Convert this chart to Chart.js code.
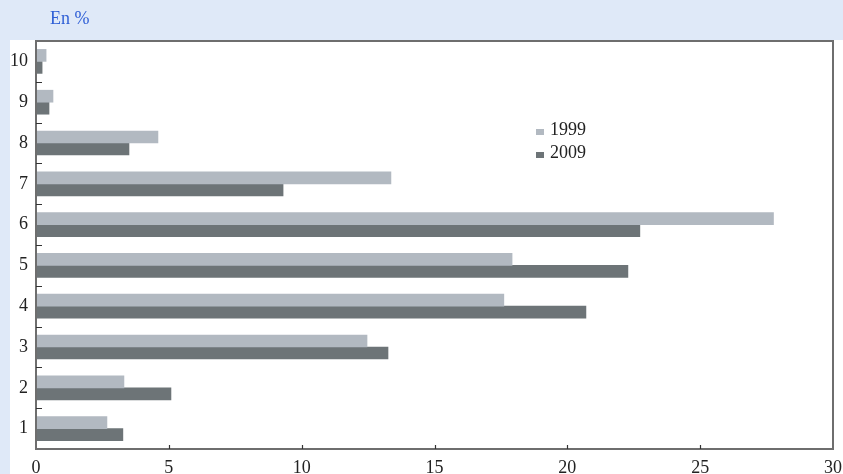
<!DOCTYPE html>
<html>
<head>
<meta charset="utf-8">
<script src="https://cdn.jsdelivr.net/npm/chart.js@4"></script>
<style>
  html, body { margin: 0; padding: 0; background: #dfe9f8; }
  #wrap { position: relative; width: 843px; height: 474px; }
  #unit { position: absolute; left: 50px; top: 8px; font: 18px "Liberation Serif", serif; color: #2f5fd6; }
  canvas { position: absolute; left: 0; top: 0; }
</style>
</head>
<body>
<div id="wrap">
  <canvas id="chart" width="843" height="474"></canvas>
  <div id="unit">En %</div>
</div>
<script>
// déciles 1 (bas) à 10 (haut)
const deciles = ['1', '2', '3', '4', '5', '6', '7', '8', '9', '10'];
const values1999 = [2.67, 3.31, 12.46, 17.61, 17.92, 27.76, 13.36, 4.59, 0.64, 0.38];
const values2009 = [3.27, 5.08, 13.25, 20.70, 22.28, 22.73, 9.30, 3.50, 0.49, 0.23];
const xTicks = [0, 5, 10, 15, 20, 25, 30];

const color1999 = '#b2b9c1';
const color2009 = '#6d7477';
const serif = '"Liberation Serif", serif';

// fond blanc, cadre, petites graduations intérieures et légende
const framePlugin = {
  id: 'frame',
  beforeDraw(chart) {
    const ctx = chart.ctx;
    ctx.save();
    ctx.fillStyle = '#ffffff';
    ctx.fillRect(10, 40, chart.width - 10, chart.height - 40);
    ctx.restore();
  },
  afterDraw(chart) {
    const ctx = chart.ctx;
    const area = chart.chartArea;
    const x = chart.scales.x;
    const y = chart.scales.y;
    ctx.save();
    ctx.strokeStyle = '#6e6e6e';
    ctx.lineWidth = 2;
    ctx.strokeRect(area.left, area.top, area.right - area.left, area.bottom - area.top);

    ctx.lineWidth = 1.2;
    ctx.strokeStyle = '#333';
    ctx.beginPath();
    xTicks.slice(1, -1).forEach(v => {
      const px = Math.round(x.getPixelForValue(v)) + 0.5;
      ctx.moveTo(px, area.bottom);
      ctx.lineTo(px, area.bottom - 4);
    });
    for (let i = 0; i < deciles.length - 1; i++) {
      const py = Math.round((y.getPixelForValue(i) + y.getPixelForValue(i + 1)) / 2) + 0.5;
      ctx.moveTo(area.left, py);
      ctx.lineTo(area.left + 6, py);
    }
    ctx.stroke();

    // légende
    ctx.font = '18px ' + serif;
    ctx.textBaseline = 'alphabetic';
    chart.data.datasets.forEach((ds, i) => {
      const base = 135 + i * 23;
      ctx.fillStyle = ds.backgroundColor;
      ctx.fillRect(536, base - 6, 8, 6);
      ctx.fillStyle = '#222';
      ctx.fillText(ds.label, 550, base);
    });
    ctx.restore();
  }
};

new Chart(document.getElementById('chart'), {
  type: 'bar',
  data: {
    labels: deciles,
    datasets: [
      { label: '1999', data: values1999, backgroundColor: color1999, barThickness: 12 },
      { label: '2009', data: values2009, backgroundColor: color2009, barThickness: 12 }
    ]
  },
  options: {
    indexAxis: 'y',
    responsive: false,
    animation: false,
    layout: { padding: { top: 41, right: 10, left: 0, bottom: 0 } },
    plugins: {
      legend: { display: false },
      tooltip: { enabled: false }
    },
    scales: {
      x: {
        min: 0,
        max: 30,
        afterBuildTicks(scale) { scale.ticks = xTicks.map(v => ({ value: v })); },
        grid: { display: false, drawTicks: false },
        border: { display: false },
        ticks: { padding: 8, color: '#222', font: { family: serif, size: 18 }, maxRotation: 0 },
        afterFit(scale) {
          scale.height = 25;
          scale.paddingLeft = 0;
          scale.paddingRight = 0;
        }
      },
      y: {
        reverse: true,
        grid: { display: false, drawTicks: false },
        border: { display: false },
        ticks: { padding: 8, color: '#222', font: { family: serif, size: 18 } },
        afterFit(scale) {
          scale.width = 36;
          scale.paddingTop = 0;
          scale.paddingBottom = 0;
        }
      }
    }
  },
  plugins: [framePlugin]
});
</script>
</body>
</html>
